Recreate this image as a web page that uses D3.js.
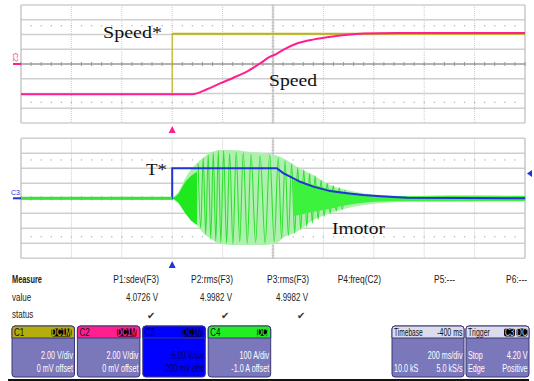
<!DOCTYPE html>
<html>
<head>
<meta charset="utf-8">
<script src="https://cdn.jsdelivr.net/npm/d3@7"></script>
<style>
  body { margin: 0; background: #fff; }
  svg { display: block; }
  .info text { font-family: "Liberation Sans", Arial, sans-serif; font-size: 10px; }
  .lbl { font-family: "Liberation Serif", "DejaVu Serif", serif; font-size: 17px; fill: #111; }
</style>
</head>
<body>
<script>
// ---- data (time in ms from trigger, 200 ms/div) ----
const timeTicks = [-600, -400, -200, 0, 200, 400, 600, 800, 1000, 1200, 1400];

// C1 Speed* (V)
const refT = [-600, 0, 0, 1400];
const refV = [-4.1, -4.1, 4.1, 4.1];

// C2 Speed (V)
const spdT = [-600, 79, 138, 190, 243, 296, 349, 389, 405, 444, 497, 563, 630, 696, 762, 893, 1400];
const spdV = [-4.1, -4.1, -3.43, -2.62, -1.86, -1.04, 0.09, 0.99, 1.22, 1.99, 2.81, 3.34, 3.70, 3.97, 4.12, 4.2, 4.22];

// C3 T* (V)
const trqT = [-600, 0, 0, 415, 442, 468, 508, 560, 627, 693, 758, 825, 931, 1400];
const trqV = [0, 0, 10, 10, 8.3, 7.2, 5.5, 3.9, 2.4, 1.7, 1.1, 0.7, 0.2, 0];

// C4 Imotor (A): envelope, initial burst, visible swings, settled band
const envT  = [0, 12, 25, 52, 65, 104, 131, 144, 171, 184, 237, 303, 369, 413, 442, 495, 560, 627, 693, 758, 825, 931, 1103, 1400];
const envHi = [0, 20, 44, 133, 170, 244, 280, 300, 315, 322, 322, 311, 300, 285, 265, 211, 155, 89, 55, 33, 22, 15, 22, 18];
const envLo = [0, -20, -35, -100, -123, -189, -245, -260, -289, -300, -311, -311, -311, -300, -262, -223, -145, -100, -67, -45, -33, -23, -22, -20];

const burstT  = [0, 12, 25, 52, 75, 98, 99];
const burstHi = [0, 11, 30, 111, 150, 177, 0];
const burstLo = [0, -11, -30, -100, -150, -178, 0];

const swingT = [103, 113, 123, 133, 143, 153, 163, 173, 183, 193, 204, 216, 228, 241, 254, 268, 282, 298, 313, 331, 349, 369, 387, 405,
                421, 434, 448, 461, 474, 486, 498, 510, 522, 534, 545, 556, 567, 579, 591, 603, 615, 627, 639, 651, 663, 675, 686];
const swingA = [230, -200, 270, -240, 290, -270, 305, -285, 315, -295, 318, -300, 300, -305, 310, -290, 305, -300, 295, -295, 285, -300, 290, -290,
                270, -270, 250, -250, 230, -235, 205, -210, 190, -190, 165, -165, 150, -140, 120, -120, 100, -100, 85, -85, 70, -75, 55];

const tailT  = [480, 560, 627, 693, 758, 825, 931, 1103, 1250, 1400];
const tailHi = [120, 90, 60, 40, 25, 18, 14, 16, 14, 15];
const tailLo = [-120, -90, -70, -45, -30, -22, -20, -20, -18, -18];

const preT = [-600, 0];
const preA = [0, 0];

// readout
const measNames = ["P1:sdev(F3)", "P2:rms(F3)", "P3:rms(F3)", "P4:freq(C2)", "P5:---", "P6:---"];
const measVals  = ["4.0726 V", "4.9982 V", "4.9982 V", "", "", ""];
const measOk    = [true, true, true, false, false, false];

const chNames  = ["C1", "C2", "C3", "C4"];
const chCoup   = ["DC1M", "DC1M", "DC1M", "DC"];
const chScale  = ["2.00 V/div", "2.00 V/div", "5.00 V/div", "100 A/div"];
const chOffset = ["0 mV offset", "0 mV offset", "-200 mV ofst", "-1.0 A offset"];
const chColor  = ["#b4ad0c", "#ff1f8e", "#0000ff", "#22ee22"];

const w = 534, h = 381;
const x = d3.scaleLinear().domain([-600, 1400]).range([21, 525]);
const yTop = d3.scaleLinear().domain([-8, 8]).range([123, 5]);        // 2 V/div
const yV = d3.scaleLinear().domain([-20, 20]).range([258.3, 138.3]);  // 5 V/div
const yA = d3.scaleLinear().domain([-400, 400]).range([258.3, 138.3]); // 100 A/div

const svg = d3.select("body").append("svg").attr("width", w).attr("height", h);

function grid(ys, step, dotLevel) {
  const g = svg.append("g");
  const [lo, hi] = ys.domain();
  const y0 = ys(lo), y1 = ys(hi);
  g.selectAll(".hl").data(d3.range(lo, hi + 0.001, step)).enter().append("line")
    .attr("x1", x(-600)).attr("x2", x(1400))
    .attr("y1", d => ys(d)).attr("y2", d => ys(d))
    .attr("stroke", "#cfcfcf").attr("stroke-width", 1.4);
  g.selectAll(".vl").data(timeTicks).enter().append("line")
    .attr("x1", d => x(d)).attr("x2", d => x(d))
    .attr("y1", y1).attr("y2", y0)
    .attr("stroke", d => (d === -600 || d === 1400) ? "#c4c4c4" : "#cdcdcd")
    .attr("stroke-width", d => (d === -600 || d === 1400) ? 1.4 : 1)
    .attr("stroke-dasharray", d => (d === -600 || d === 1400) ? null : "1,1");
  // centre axes with minor ticks
  g.append("line").attr("x1", x(-600)).attr("x2", x(1400)).attr("y1", ys(0)).attr("y2", ys(0))
    .attr("stroke", "#8a8a8a").attr("stroke-width", 1);
  g.append("line").attr("x1", x(400)).attr("x2", x(400)).attr("y1", y1).attr("y2", y0)
    .attr("stroke", "#c0c0c0").attr("stroke-width", 1.2);
  g.selectAll(".tk").data(d3.range(-600, 1401, 40)).enter().append("line")
    .attr("x1", d => x(d)).attr("x2", d => x(d))
    .attr("y1", ys(0) - 2).attr("y2", ys(0) + 2)
    .attr("stroke", "#9a9a9a");
  g.selectAll(".tky").data(d3.range(lo, hi + 0.001, step / 5)).enter().append("line")
    .attr("x1", x(400) - 1.5).attr("x2", x(400) + 1.5)
    .attr("y1", d => ys(d)).attr("y2", d => ys(d))
    .attr("stroke", "#c4c4c4");
  // dotted rows
  [dotLevel, -dotLevel].forEach(lv => {
    g.selectAll(null).data(d3.range(-560, 1400, 40)).enter().append("rect")
      .attr("x", d => x(d) - 0.6).attr("y", ys(lv) - 0.6)
      .attr("width", 1.3).attr("height", 1.3)
      .attr("fill", "#b8b8b8");
  });
}

grid(yTop, 2, 5.2);
grid(yV, 5, 12.8);

const lineTop = d3.line().x(d => x(d[0])).y(d => yTop(d[1]));
const lineV = d3.line().x(d => x(d[0])).y(d => yV(d[1]));
const lineA = d3.line().x(d => x(d[0])).y(d => yA(d[1]));
const bandA = d3.area().x(d => x(d[0])).y0(d => yA(d[2])).y1(d => yA(d[1]));

// ---- top: speed ----
svg.append("path").datum(d3.zip(refT, refV)).attr("d", lineTop)
  .attr("fill", "none").attr("stroke", "#bdb517").attr("stroke-width", 1.2);
svg.append("path").datum(d3.zip(refT.slice(2), refV.slice(2))).attr("d", lineTop)
  .attr("fill", "none").attr("stroke", "#bdb517").attr("stroke-width", 2.2);
svg.append("path").datum(d3.zip(spdT, spdV)).attr("d", lineTop.curve(d3.curveMonotoneX))
  .attr("fill", "none").attr("stroke", "#ff1f8e").attr("stroke-width", 2);

// ---- bottom: current ----
svg.append("path").datum(d3.zip(envT, envHi, envLo)).attr("d", bandA.curve(d3.curveMonotoneX))
  .attr("fill", "#aef0ae");
svg.append("path").datum(d3.zip(burstT, burstHi, burstLo)).attr("d", bandA.curve(d3.curveLinear))
  .attr("fill", "#1fe81f");
svg.append("path").datum(d3.zip(swingT, swingA)).attr("d", d3.line().x(d => x(d[0])).y(d => yA(d[1])).curve(d3.curveMonotoneX))
  .attr("fill", "none").attr("stroke", "#2fe02f").attr("stroke-width", 1.1);
svg.append("path").datum(d3.zip(tailT, tailHi, tailLo)).attr("d", bandA.curve(d3.curveMonotoneX))
  .attr("fill", "#3cf23c");

// T* line
svg.append("path").datum(d3.zip(trqT, trqV)).attr("d", lineV)
  .attr("fill", "none").attr("stroke", "#2234d8").attr("stroke-width", 2);
svg.append("path").datum(d3.zip(preT, preA)).attr("d", lineA)
  .attr("fill", "none").attr("stroke", "#36e436").attr("stroke-width", 3);

// ---- markers ----
svg.append("path").attr("d", `M${x(0)},126 l3.5,7 h-7 z`).attr("fill", "#ff1f8e");
svg.append("path").attr("d", `M${x(0)},261 l3.5,7 h-7 z`).attr("fill", "#2234d8");
svg.append("path").attr("d", `M527,${yV(8.3)} l5,-3.5 v7 z`).attr("fill", "#2234d8");
svg.append("line").attr("x1", 13).attr("x2", 21).attr("y1", yTop(0)).attr("y2", yTop(0)).attr("stroke", "#ff1f8e").attr("stroke-width", 2);
svg.append("line").attr("x1", 13).attr("x2", 21).attr("y1", yV(0)).attr("y2", yV(0)).attr("stroke", "#2234d8").attr("stroke-width", 2);
svg.append("text").attr("transform", `translate(13,${yTop(0) - 11}) rotate(90)`)
  .attr("font-family", "Liberation Sans, sans-serif").attr("font-size", 7)
  .attr("fill", "#ff1f8e").text("C2");
svg.append("text").attr("x", 11).attr("y", yV(0) - 3)
  .attr("font-family", "Liberation Sans, sans-serif").attr("font-size", 7)
  .attr("fill", "#2234d8").text("C3");

// ---- annotations ----
svg.append("text").attr("class", "lbl").attr("x", 103).attr("y", 38).attr("textLength", 59).attr("lengthAdjust", "spacingAndGlyphs").text("Speed*");
svg.append("text").attr("class", "lbl").attr("x", 269).attr("y", 86).attr("textLength", 48).attr("lengthAdjust", "spacingAndGlyphs").text("Speed");
svg.append("text").attr("class", "lbl").attr("x", 146).attr("y", 175).attr("textLength", 21).attr("lengthAdjust", "spacingAndGlyphs").text("T*");
svg.append("text").attr("class", "lbl").attr("x", 332).attr("y", 234).attr("textLength", 53).attr("lengthAdjust", "spacingAndGlyphs").text("Imotor");

// ---- readout ----
const info = svg.append("g").attr("class", "info");

// narrow text: squeeze horizontally around its anchor point
function say(g, tx, ty, s, anchor, fill, sx, size) {
  return g.append("text")
    .attr("transform", `translate(${tx},${ty}) scale(${sx},1)`)
    .attr("text-anchor", anchor || "start")
    .attr("font-size", size || 10)
    .attr("fill", fill || "#222")
    .text(s);
}

say(info, 12, 283, "Measure", "start", "#222", 0.74).attr("font-weight", "bold");
say(info, 12, 301, "value", "start", "#222", 0.8);
say(info, 12, 318, "status", "start", "#222", 0.8);
const measEnd = [159, 233, 309, 381, 455, 527];
measNames.forEach((n, i) => {
  say(info, measEnd[i], 283, n, "end", "#222", 0.84);
  if (measVals[i]) say(info, measEnd[i] - 1, 301, measVals[i], "end", "#222", 0.8);
  if (measOk[i]) info.append("text").attr("x", measEnd[i] - 8).attr("y", 319).attr("text-anchor", "middle")
    .attr("font-family", "DejaVu Sans").attr("font-size", 9).attr("fill", "#333").text("\u2714");
});

chNames.forEach((n, i) => {
  const bx = 12 + i * 65.4, bw = 62.5, by = 326, bh = 51;
  const blue = i === 2;
  const body = blue ? "#000060" : "#fff";
  const g = info.append("g");
  g.append("rect").attr("x", bx).attr("y", by).attr("width", bw).attr("height", bh).attr("rx", 3)
    .attr("fill", blue ? "#0000ff" : "#7a77bb").attr("stroke", "#3a3878").attr("stroke-width", 1);
  g.append("path").attr("d", `M${bx},${by + 12} v-9 a3,3 0 0 1 3,-3 h${bw - 6} a3,3 0 0 1 3,3 v9 z`)
    .attr("fill", chColor[i]).attr("stroke", "#3a3878").attr("stroke-width", 1);
  say(g, bx + 2, by + 10, n, "start", blue ? "#000060" : "#111", 0.8);
  const bwid = chCoup[i].length > 2 ? 20 : 11;
  g.append("rect").attr("x", bx + bw - bwid - 3).attr("y", by + 2.5).attr("width", bwid).attr("height", 8).attr("rx", 2)
    .attr("fill", "#000").attr("stroke", i === 3 ? chColor[i] : "none");
  say(g, bx + bw - 3 - bwid / 2, by + 9.5, chCoup[i], "middle", chColor[i], 0.7, 8).attr("font-weight", "bold");
  say(g, bx + bw - 1.5, by + 33, chScale[i], "end", body, 0.72, 10.5);
  say(g, bx + bw - 1.5, by + 46, chOffset[i], "end", body, 0.72, 10.5);
});

function panel(bx, bw) {
  const g = info.append("g");
  g.append("rect").attr("x", bx).attr("y", 326).attr("width", bw).attr("height", 51).attr("rx", 3)
    .attr("fill", "#7a77bb").attr("stroke", "#3a3878");
  g.append("path").attr("d", `M${bx},338 v-9 a3,3 0 0 1 3,-3 h${bw - 6} a3,3 0 0 1 3,3 v9 z`)
    .attr("fill", "#dcdcec").attr("stroke", "#3a3878");
  return g;
}
const tb = panel(392, 72);
say(tb, 394, 336, "Timebase", "start", "#111", 0.66, 10);
say(tb, 462.5, 336, "-400 ms", "end", "#111", 0.7, 10);
say(tb, 462.5, 359, "200 ms/div", "end", "#fff", 0.72, 10.5);
say(tb, 394, 372, "10.0 kS", "start", "#fff", 0.72, 10.5);
say(tb, 462.5, 372, "5.0 kS/s", "end", "#fff", 0.72, 10.5);

const tr = panel(466, 63);
say(tr, 468, 336, "Trigger", "start", "#111", 0.7, 10);
[["C3", 504], ["DC", 516.5]].forEach(([t, bx]) => {
  tr.append("rect").attr("x", bx).attr("y", 328.5).attr("width", 11).attr("height", 8).attr("rx", 2).attr("fill", "#000");
  say(tr, bx + 5.5, 335.5, t, "middle", "#ccc", 0.75, 8);
});
say(tr, 468, 359, "Stop", "start", "#fff", 0.72, 10.5);
say(tr, 527.5, 359, "4.20 V", "end", "#fff", 0.72, 10.5);
say(tr, 468, 372, "Edge", "start", "#fff", 0.72, 10.5);
say(tr, 527.5, 372, "Positive", "end", "#fff", 0.72, 10.5);

svg.append("rect").attr("x", 8).attr("y", 379).attr("width", 521).attr("height", 2.5).attr("fill", "#111");
</script>
</body>
</html>
